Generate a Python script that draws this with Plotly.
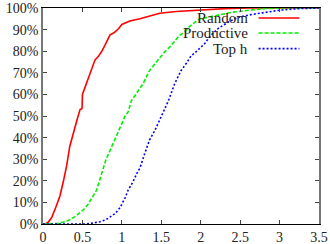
import plotly.graph_objects as go

# Random
rx = [0.00, 0.03, 0.07, 0.11, 0.16, 0.215, 0.26, 0.30, 0.34, 0.39, 0.43, 0.47, 0.495, 0.50, 0.55, 0.62, 0.66, 0.70,
      0.74, 0.785, 0.82, 0.85, 0.90, 0.93, 0.96, 1.00, 1.10, 1.23, 1.35, 1.48, 1.69, 1.99, 2.3, 2.6, 3.0, 3.5]
ry = [0.000, 0.000, 0.010, 0.030, 0.075, 0.130, 0.200, 0.270, 0.360, 0.420, 0.480, 0.530, 0.535, 0.600, 0.650, 0.710,
      0.760, 0.775, 0.796, 0.827, 0.850, 0.876, 0.885, 0.893, 0.905, 0.924, 0.940, 0.950, 0.963, 0.976, 0.984, 0.992,
      0.997, 1.0, 1.0, 1.0]
# Productive
gx = [0.00, 0.13, 0.20, 0.27, 0.34, 0.405, 0.46, 0.51, 0.57, 0.62, 0.68, 0.72, 0.76, 0.80, 0.85, 0.91, 0.96, 1.00,
      1.04, 1.08, 1.12, 1.18, 1.23, 1.27, 1.35, 1.42, 1.48, 1.54, 1.61, 1.67, 1.73, 1.80, 1.86, 1.93, 1.99, 2.09,
      2.24, 2.39, 2.62, 2.81, 3.04, 3.5]
gy = [0, 0, 0.003, 0.010, 0.020, 0.034, 0.048, 0.065, 0.090, 0.120, 0.157, 0.205, 0.257, 0.300, 0.340, 0.388, 0.425,
      0.465, 0.499, 0.519, 0.570, 0.600, 0.628, 0.650, 0.710, 0.740, 0.770, 0.796, 0.820, 0.845, 0.873, 0.890, 0.915,
      0.935, 0.950, 0.957, 0.970, 0.980, 0.990, 0.997, 1.0, 1.0]
# Top h
bx = [0.00, 0.53, 0.62, 0.72, 0.80, 0.85, 0.92, 0.975, 1.04, 1.08, 1.14, 1.19, 1.23, 1.29, 1.35, 1.42, 1.48, 1.54,
      1.59, 1.67, 1.75, 1.82, 1.88, 1.92, 1.99, 2.05, 2.12, 2.22, 2.35, 2.47, 2.65, 2.81, 3.0, 3.23, 3.4, 3.5]
by = [0, 0, 0.004, 0.010, 0.020, 0.034, 0.050, 0.075, 0.120, 0.157, 0.195, 0.234, 0.260, 0.326, 0.388, 0.434, 0.484,
      0.527, 0.570, 0.650, 0.710, 0.745, 0.780, 0.790, 0.815, 0.835, 0.870, 0.905, 0.935, 0.957, 0.970, 0.980, 0.990,
      0.997, 1.0, 1.0]

names = ["Random", "Productive", "Top h"]
colors = ["#ff0000", "#00ee00", "#0000ff"]
dashes = ["solid", "4px,2px", "2px,2px"]

xticks = [0, 0.5, 1, 1.5, 2, 2.5, 3, 3.5]
xticklabels = ["0", "0.5", "1", "1.5", "2", "2.5", "3", "3.5"]
yticks = [i / 10 for i in range(11)]
yticklabels = [f"{i * 10}%" for i in range(11)]

font = "Liberation Serif"

fig = go.Figure()
for x, y, n, c, d in zip([rx, gx, bx], [ry, gy, by], names, colors, dashes):
    fig.add_trace(go.Scatter(x=x, y=y, mode="lines", name=n,
                             line=dict(color=c, width=1.6, dash=d), showlegend=False))

# manual legend (text left of sample, gnuplot style)
leg_y = [0.954, 0.884, 0.812]
for n, c, d, ly in zip(names, colors, dashes, leg_y):
    fig.add_annotation(x=0.745, y=ly, xref="paper", yref="paper", text=n, showarrow=False,
                       xanchor="right", yanchor="middle", font=dict(family=font, size=15, color="#222"),
                       borderpad=0)
    fig.add_shape(type="line", xref="paper", yref="paper", x0=0.781, x1=0.929, y0=ly, y1=ly,
                  line=dict(color=c, width=1.6, dash=d))

fig.update_layout(
    width=330, height=244,
    margin=dict(l=43, r=11, t=8, b=20),
    plot_bgcolor="white", paper_bgcolor="white",
    font=dict(family=font, size=14, color="#222"),
    xaxis=dict(range=[0, 3.5], tickvals=xticks, ticktext=xticklabels, ticks="inside", ticklen=4,
               mirror="ticks", showline=True, linecolor="black", linewidth=1, tickcolor="#444",
               showgrid=False, zeroline=False, tickfont=dict(size=14), automargin=False),
    yaxis=dict(range=[0, 1], tickvals=yticks, ticktext=yticklabels, ticks="inside", ticklen=4,
               mirror="ticks", showline=True, linecolor="#777", linewidth=1.5, tickcolor="#444",
               showgrid=False, zeroline=False, tickfont=dict(size=14), automargin=False),
)

fig.write_html("out.html", config={"displayModeBar": False},
               post_script="document.body.style.margin='0';document.body.style.overflow='hidden';")
